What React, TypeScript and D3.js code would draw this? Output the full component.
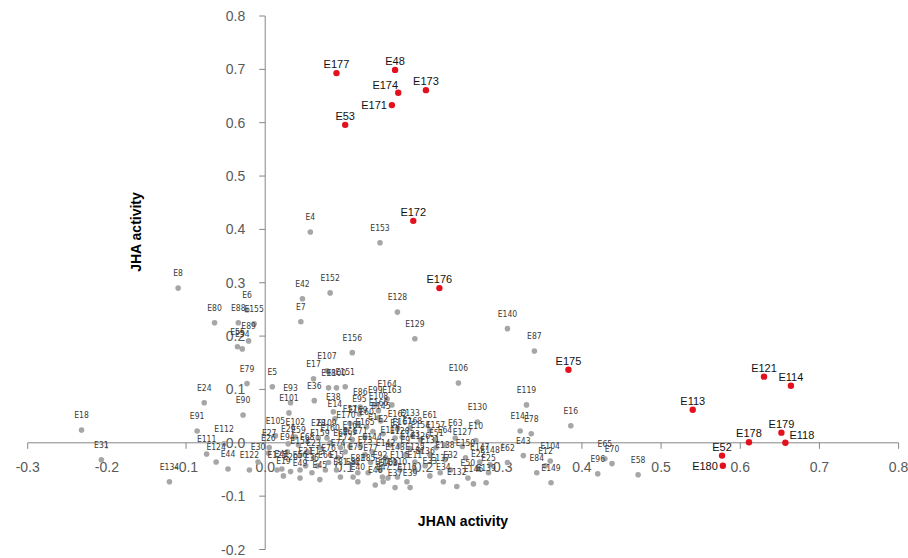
import React from "react";
import * as d3 from "d3";

// ---- data ----
const xTicks = [-0.3, -0.2, -0.1, 0.0, 0.1, 0.2, 0.3, 0.4, 0.5, 0.6, 0.7, 0.8];
const yTicks = [-0.2, -0.1, 0.0, 0.1, 0.2, 0.3, 0.4, 0.5, 0.6, 0.7, 0.8];

const redLabels = ["E177","E48","E174","E171","E173","E53","E172","E176","E175","E113","E121","E114","E179","E178","E118","E52","E180"];
const redX = [0.090,0.164,0.168,0.160,0.203,0.101,0.187,0.220,0.383,0.540,0.630,0.664,0.652,0.611,0.657,0.577,0.578];
const redY = [0.693,0.699,0.656,0.633,0.661,0.596,0.416,0.290,0.137,0.062,0.124,0.107,0.019,0.001,0.000,-0.024,-0.043];

const grayLabels = [
  "E4","E153","E152","E42","E7","E128","E129","E156","E8","E80","E88","E6","E155","E89","E55","E54","E79","E24","E90","E18",
  "E91","E112","E111","E124","E44","E122","E31","E134","E5","E93","E101","E17","E107","E98","E100","E151","E36","E38","E14","E106",
  "E140","E87","E119","E16","E141","E78","E130","E10","E43","E62","E104","E12","E84","E149","E65","E70","E96","E58","E132","E146",
  "E139","E51","E86","E99","E164","E163","E95","E108","E166","E145","E162","E133","E105","E102","E28","E109","E29","E59","E27","E26",
  "E94","E68","E23","E30","E125","E41","E56","E20","E35","E66","E67","E69","E71","E72","E73","E74","E75","E76","E77","E81",
  "E82","E83","E85","E92","E97","E103","E110","E115","E116","E117","E120","E123","E126","E127","E131","E135","E136","E137","E138","E142",
  "E143","E144","E147","E148","E150","E154","E157","E158","E159","E160","E161","E165","E167","E168","E169","E170","E1","E2","E3","E9",
  "E11","E13","E15","E19","E21","E22","E25","E32","E33","E34","E37","E39","E40","E45","E46","E47","E49","E50","E57","E60",
  "E61","E63","E64"
];
const grayX = [
  0.057,0.145,0.082,0.047,0.045,0.167,0.189,0.110,-0.110,-0.064,-0.034,-0.023,-0.014,-0.021,-0.035,-0.029,-0.023,-0.077,-0.028,-0.232,
  -0.086,-0.052,-0.074,-0.062,-0.047,-0.020,-0.207,-0.121,0.009,0.032,0.030,0.061,0.078,0.080,0.090,0.101,0.062,0.086,0.088,0.244,
  0.306,0.340,0.330,0.386,0.322,0.336,0.268,0.266,0.326,0.306,0.360,0.354,0.343,0.361,0.429,0.438,0.420,0.471,0.242,0.263,
  0.279,0.216,0.120,0.139,0.154,0.160,0.119,0.143,0.143,0.146,0.167,0.183,0.013,0.038,0.067,0.078,0.029,0.042,0.005,0.004,
  0.028,0.053,0.061,-0.009,0.015,0.021,0.044,0.032,0.059,0.076,0.095,0.107,0.120,0.101,0.126,0.092,0.114,0.080,0.133,0.095,
  0.111,0.117,0.130,0.145,0.148,0.155,0.167,0.170,0.179,0.158,0.170,0.183,0.196,0.249,0.208,0.189,0.202,0.221,0.227,0.152,
  0.164,0.135,0.271,0.284,0.253,0.196,0.215,0.044,0.069,0.082,0.110,0.126,0.173,0.186,0.117,0.102,0.136,0.149,0.164,0.177,
  0.189,0.066,0.090,0.023,0.051,0.269,0.282,0.234,0.208,0.225,0.164,0.183,0.117,0.069,0.139,0.149,0.044,0.256,0.107,0.128,
  0.208,0.240,0.227
];
const grayY = [
  0.395,0.375,0.281,0.270,0.227,0.245,0.195,0.169,0.290,0.225,0.225,0.249,0.223,0.191,0.180,0.176,0.111,0.075,0.052,0.024,
  0.022,-0.002,-0.021,-0.036,-0.049,-0.051,-0.032,-0.073,0.105,0.075,0.056,0.120,0.135,0.103,0.103,0.105,0.079,0.058,0.045,0.112,
  0.214,0.172,0.071,0.032,0.022,0.017,0.039,0.004,-0.024,-0.037,-0.034,-0.043,-0.056,-0.075,-0.030,-0.039,-0.058,-0.060,-0.082,-0.077,
  -0.075,-0.009,0.067,0.071,0.082,0.071,0.054,0.060,0.047,0.041,0.026,0.028,0.013,0.011,0.009,0.009,-0.002,-0.004,-0.009,-0.019,
  -0.017,-0.017,-0.028,-0.036,-0.051,-0.049,-0.051,-0.054,-0.056,-0.051,-0.009,-0.007,-0.006,-0.017,-0.022,-0.028,-0.036,-0.037,-0.037,-0.064,
  -0.064,-0.056,-0.056,-0.051,-0.064,-0.066,-0.064,-0.051,-0.073,-0.004,-0.006,-0.011,-0.015,-0.007,-0.022,-0.036,-0.043,-0.056,-0.032,-0.028,
  -0.036,-0.017,-0.036,-0.041,-0.028,0.006,0.006,-0.024,-0.009,0.000,0.006,0.011,0.011,0.013,0.034,0.024,0.021,0.017,0.009,-0.022,
  -0.051,-0.043,-0.051,-0.062,-0.043,-0.049,-0.056,-0.051,-0.062,-0.073,-0.084,-0.084,-0.073,-0.069,-0.079,-0.073,-0.066,-0.066,0.036,0.030,
  0.024,0.009,-0.004
];

// ---- layout / style (not data) ----
const W = 908;
const H = 558;
const AXIS = "#868686";
const TICK_TEXT = "#595959";
const GRAY = "#a6a6a6";
const RED = "#e3101e";
const redPlacement: Record<string, string> = { E171: "left", E174: "upleft", E180: "left", E118: "right" };

export default function App() {
  const x = d3.scaleLinear().domain([-0.3, 0.8]).range([27.7, 898.6]);
  const y = d3.scaleLinear().domain([-0.2, 0.8]).range([549.5, 16]);
  const x0 = x(0);
  const y0 = y(0);
  const f1 = d3.format(".1f");
  const fmt = (v: number) => f1(v).replace("\u2212", "-");

  const gray = grayLabels.map((name, i) => ({ name, vx: grayX[i], vy: grayY[i] }));
  const red = redLabels.map((name, i) => ({ name, vx: redX[i], vy: redY[i] }));

  const tickFont = "'Liberation Sans', Arial, sans-serif";
  const smallFont = "'Liberation Sans Narrow', 'DejaVu Sans Condensed', 'Liberation Sans', Arial, sans-serif";

  return (
    <svg
      width={W}
      height={H}
      style={{ position: "absolute", left: 0, top: 0, background: "#fff" }}
      xmlns="http://www.w3.org/2000/svg"
    >
      <rect x={0} y={0} width={W} height={H} fill="#fff" />
      {/* axes */}
      <line x1={x(-0.3)} x2={x(0.8)} y1={y0} y2={y0} stroke={AXIS} strokeWidth={1} />
      <line x1={x0} x2={x0} y1={y(0.8)} y2={y(-0.2)} stroke={AXIS} strokeWidth={1} />
      {xTicks.map((t) => (
        <g key={"xt" + t}>
          <line x1={x(t)} x2={x(t)} y1={y0} y2={y0 + 6} stroke={AXIS} />
          <text x={x(t)} y={y0 + 29} textAnchor="middle" fontFamily={tickFont} fontSize={14} fill={TICK_TEXT}>
            {fmt(t)}
          </text>
        </g>
      ))}
      {yTicks.map((t) => (
        <g key={"yt" + t}>
          <line x1={x0 - 6} x2={x0} y1={y(t)} y2={y(t)} stroke={AXIS} />
          <text x={x0 - 20} y={y(t) + 5} textAnchor="end" fontFamily={tickFont} fontSize={14} fill={TICK_TEXT}>
            {fmt(t)}
          </text>
        </g>
      ))}
      {/* axis titles */}
      <text
        transform={`translate(141,232) rotate(-90)`}
        textAnchor="middle"
        fontFamily={tickFont}
        fontWeight="bold"
        fontSize={14}
        fill="#000"
      >
        JHA activity
      </text>
      <text x={463} y={526} textAnchor="middle" fontFamily={tickFont} fontWeight="bold" fontSize={14} fill="#000">
        JHAN activity
      </text>
      {/* gray points */}
      {gray.map((d) => (
        <circle key={"gc" + d.name} cx={x(d.vx)} cy={y(d.vy)} r={2.8} fill={GRAY} />
      ))}
      {gray.map((d) => (
        <text
          key={"gl" + d.name}
          x={x(d.vx)}
          y={y(d.vy) - 12}
          textAnchor="middle"
          fontFamily={smallFont}
          fontSize={8.5}
          fill="#3a3a3a"
        >
          {d.name}
        </text>
      ))}
      {/* red points */}
      {red.map((d) => (
        <circle key={"rc" + d.name} cx={x(d.vx)} cy={y(d.vy)} r={3.2} fill={RED} />
      ))}
      {red.map((d) => {
        const p = redPlacement[d.name];
        const px = x(d.vx);
        const py = y(d.vy);
        let tx = px;
        let ty = py - 5;
        let anchor = "middle";
        if (p === "left") {
          tx = px - 5;
          ty = py + 4;
          anchor = "end";
        } else if (p === "upleft") {
          tx = px - 13;
          ty = py - 4;
        } else if (p === "right") {
          tx = px + 4;
          ty = py - 4;
          anchor = "start";
        }
        return (
          <text
            key={"rl" + d.name}
            x={tx}
            y={ty}
            textAnchor={anchor}
            fontFamily={tickFont}
            fontSize={11}
            fill="#111"
          >
            {d.name}
          </text>
        );
      })}
    </svg>
  );
}
